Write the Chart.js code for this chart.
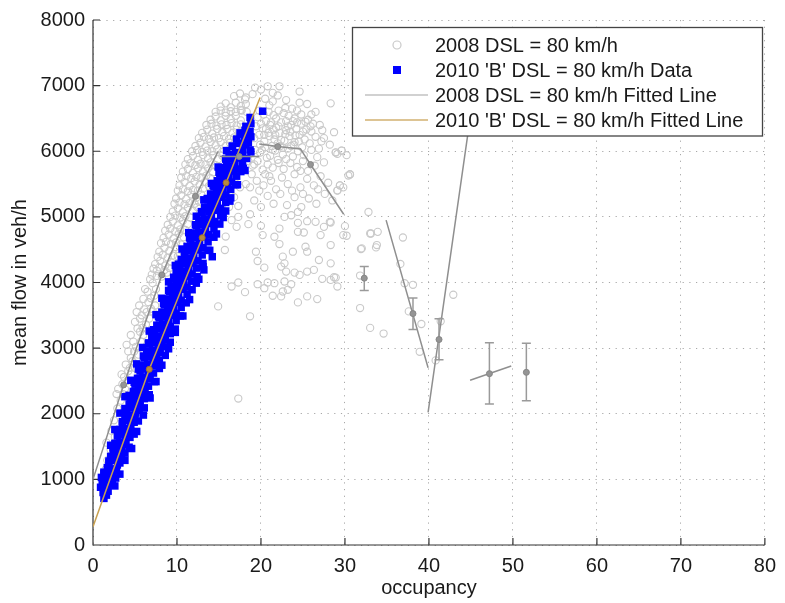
<!DOCTYPE html>
<html><head><meta charset="utf-8">
<script src="https://cdn.jsdelivr.net/npm/chart.js@4.4.0/dist/chart.umd.min.js"></script>
<style>html,body{margin:0;padding:0;background:#fff}#wrap{width:785px;height:603px}</style>
</head><body><div id="wrap"><canvas id="c" width="785" height="603"></canvas></div>
<script>
// ---------- data ----------
const xTickValues = [0,10,20,30,40,50,60,70,80];
const yTickValues = [0,1000,2000,3000,4000,5000,6000,7000,8000];
const legendLabels = ["2008 DSL = 80 km/h","2010 'B' DSL = 80 km/h Data","2008 DSL = 80 km/h Fitted Line","2010 'B' DSL = 80 km/h Fitted Line"];
const xTitle = "occupancy";
const yTitle = "mean flow in veh/h";

const gray2008 = [
[1.5,1150],[1.7,1290],[1.6,1560],[2.1,1450],[2.2,1740],[2.6,1650],[2.5,1900],[2.9,2080],[2.8,2300],[3.3,2200],[3.5,2450],[3.8,2380],[3.4,2600],[3.7,2560],[4.2,2650],[3.9,2750],[4.4,2700],[4.5,2850],[4.2,2950],[4.7,2800],[4.9,2950],[5.1,3020],[4.8,3100],[4.0,3050],[4.5,3200],[5.3,3300],[5.0,3400],[5.6,3250],[5.9,3310],[6.3,3360],[5.2,3550],[5.8,3500],[5.6,3450],[6.1,3590],[6.4,3550],[5.5,3650],[7.1,3560],[6.6,3700],[6.0,3750],[6.9,3760],[7.3,3800],[6.5,3860],[6.2,3900],[7.1,3990],[7.5,3900],[6.8,4050],[7.6,4100],
[3.0,2380],[3.6,2300],[4.1,2500],[4.6,2600],[5.0,2700],[5.4,2900],[5.7,3100],[6.0,3200],[6.7,3450],[6.9,3600],[7.4,3650],
[7.0,4120],[7.6,4180],[8.2,4090],[8.8,4150],
[7.2,4210],[7.9,4230],[8.5,4190],[9.1,4220],
[7.4,4280],[8.0,4330],[8.6,4260],[9.3,4310],[9.9,4250],
[7.7,4390],[8.3,4420],[8.9,4380],[9.5,4410],[10.1,4400],
[7.9,4470],[8.5,4530],[9.1,4480],[9.8,4540],[10.3,4460],
[8.1,4600],[8.7,4620],[9.3,4590],[9.9,4610],[10.5,4580],
[8.4,4680],[9.0,4730],[9.6,4670],[10.2,4740],[10.8,4690],
[8.6,4790],[9.2,4820],[9.8,4780],[10.4,4810],[11.0,4800],
[8.9,4880],[9.5,4930],[10.1,4870],[10.7,4940],[11.3,4890],
[9.2,5000],[9.8,5020],[10.4,4990],[11.0,5010],[11.6,4990],
[9.5,5080],[10.1,5130],[10.7,5070],[11.3,5140],[11.9,5090],[12.4,5150],
[9.7,5200],[10.3,5220],[10.9,5190],[11.5,5210],[12.1,5200],[12.6,5230],
[9.9,5280],[10.5,5330],[11.1,5270],[11.7,5340],[12.3,5290],[12.9,5340],
[10.1,5400],[10.7,5420],[11.3,5390],[11.9,5410],[12.5,5400],[13.1,5430],
[10.3,5480],[10.9,5530],[11.5,5470],[12.1,5540],[12.7,5490],[13.3,5530],[13.8,5470],
[10.5,5600],[11.1,5620],[11.7,5590],[12.3,5610],[12.9,5600],[13.5,5630],[14.0,5590],
[10.7,5690],[11.3,5730],[11.9,5670],[12.5,5740],[13.1,5690],[13.7,5740],[14.3,5680],
[11.0,5800],[11.6,5820],[12.2,5790],[12.8,5810],[13.4,5800],[14.0,5830],[14.6,5790],
[11.3,5880],[11.9,5930],[12.5,5870],[13.1,5940],[13.7,5890],[14.3,5940],[14.9,5880],[15.4,5930],
[11.8,6000],[12.4,6020],[13.0,5990],[13.6,6010],[14.2,6000],[14.8,6030],[15.4,5990],[16.0,6010],
[12.2,6080],[12.8,6130],[13.4,6070],[14.0,6140],[14.6,6090],[15.2,6140],[15.8,6080],[16.3,6130],
[12.6,6200],[13.2,6220],[13.8,6190],[14.4,6210],[15.0,6200],[15.6,6230],[16.2,6190],[16.8,6210],
[13.0,6280],[13.6,6330],[14.2,6270],[14.8,6340],[15.4,6290],[16.0,6340],[16.6,6280],[17.1,6330],
[13.5,6400],[14.1,6420],[14.7,6390],[15.3,6410],[15.9,6400],[16.5,6430],[17.1,6390],[17.6,6410],
[14.0,6480],[14.6,6530],[15.2,6470],[15.8,6540],[16.4,6490],[17.0,6540],[17.6,6470],
[14.6,6600],[15.2,6620],[15.8,6590],[16.4,6610],[17.0,6600],[17.6,6630],[18.3,6600],
[15.2,6680],[15.8,6730],[16.4,6670],[17.0,6740],[17.6,6690],[18.2,6720],
[16.8,6840],[17.5,6880],[18.2,6820],[19.0,6870],[19.3,6970],
[20.0,6940],[20.8,6990],[21.4,6890],[22.2,6990],[24.6,6910],[24.6,6740],[28.3,6730],[18.1,6790],[17.7,6620],
[14.8,4900],[15.5,5100],[16.2,5150],[16.8,5300],[17.5,5450],[17.0,5600],[18.2,5500],[18.9,5650],[18.5,5850],[19.2,5800],[15.8,4700],[16.5,4950],[17.3,5000],[16.0,5400],
[20.5,6800],[21.0,6700],[22.0,6850],[23.0,6780],[23.7,6650],[25.5,6720],[26.5,6600],[19.8,6620],
[19.6,6520],[20.3,6560],[20.9,6600],[21.5,6550],[22.1,6620],[22.7,6580],[23.3,6540],[24.0,6500],[24.8,6560],[25.6,6480],[26.2,6420],[27.0,6400],
[19.4,6380],[20.0,6420],[20.6,6340],[21.2,6440],[21.8,6360],[22.4,6440],[23.0,6320],[23.6,6400],[24.2,6340],[24.8,6420],[25.4,6330],[26.0,6300],[27.3,6320],[28.7,6290],
[19.2,6200],[19.8,6250],[20.4,6150],[21.0,6230],[21.6,6180],[22.2,6280],[22.8,6160],[23.4,6230],[24.0,6140],[24.6,6250],[25.2,6180],[25.8,6120],[26.5,6220],[27.2,6150],
[18.6,5950],[19.3,6020],[19.9,5980],[20.5,6060],[21.1,5930],[21.7,6010],[22.6,5950],[23.2,6040],[23.8,5920],[24.4,6000],[25.1,5940],[26.0,6020],[26.7,5910],[27.5,5830],[29.1,5960],[28.9,5980],[30.2,5940],[29.6,6010],
[19.0,5780],[19.6,5850],[20.2,5720],[20.8,5800],[21.4,5750],[22.0,5870],[22.7,5730],[23.5,5820],[24.3,5760],[25.0,5850],[25.6,5700],[26.4,5780],
[18.7,5450],[19.5,5550],[20.3,5480],[21.0,5620],[21.8,5420],[22.5,5600],[23.2,5500],[24.0,5650],[24.7,5450],[25.5,5580],[26.3,5480],[27.1,5620],[28.0,5520],[29.4,5480],[29.1,5400],[30.6,5650],[30.4,5630],[29.8,5450],
[19.2,5250],[20.0,5150],[20.8,5320],[21.5,5200],[22.3,5350],[23.1,5180],[24.0,5300],[24.8,5150],[25.7,5280],[26.6,5200],[27.6,5350],[28.5,5250],
[20.2,6350],[20.9,6280],[21.5,6330],[22.1,6380],[22.9,6260],[23.5,6300],[24.1,6240],[21.3,6080],[22.0,6120],[22.6,6050],[23.0,6460],[21.8,6500],[20.6,6460],[24.3,6440],[25.0,6300],[19.9,6100],[20.7,5900],[23.9,6100],
[20.4,6250],[21.1,6400],[21.7,6250],[22.4,6170],[23.2,6380],[23.8,6460],[24.5,6150],[25.3,6450],[25.9,6380],[20.1,6020],[21.4,6020],[22.3,6080],[23.6,6080],[24.9,6060],[22.1,5820],[23.0,5880],[24.7,5700],[21.2,5550],[20.5,5650],[19.8,5400],[23.7,5400],[26.8,5420],[25.0,5350],[22.9,6660],[21.4,6760],[24.3,6620],[26.0,6560],[27.5,6200],[26.9,6040],[28.2,6100],
[17.3,5166],[18.7,5040],[17.1,4848],[18.5,4889],[20.0,4863],[20.2,4722],[22.2,4822],[21.6,4697],[22.2,4586],[22.8,5000],[23.6,5025],[24.4,5075],[24.4,4909],[25.5,4934],[26.5,4924],[27.5,4848],[28.3,4914],[27.1,4722],[24.4,4772],[25.1,4762],[25.3,4545],[28.3,4571],[29.8,4722],
[19.4,4469],[19.6,4328],[22.6,4394],[23.8,4469],[25.5,4469],[22.8,4292],[22.4,4242],[20.4,4227],[26.9,4343],[28.3,4292],[26.3,4192],[24.0,4151],[23.0,4166],[24.6,4116],[25.5,4166],
[22.8,4015],[23.6,3974],[21.6,3989],[20.8,4000],[19.6,3974],[17.3,4000],[16.5,3939],[20.4,3913],[23.2,3889],[22.6,3863],[22.4,3788],[21.4,3798],[24.4,3697],[25.5,3788],[26.7,3747],[27.3,4056],[28.3,4040],[28.9,4075],[29.1,3939],
[18.1,3853],[14.9,3636],[18.7,3485],[15.7,4495],[31.8,3611],[33.0,3308],[32.0,4520],[33.0,4747],[33.8,4571],[31.8,4106],[17.3,2232],
[32.8,5075],[33.1,4747],[33.9,4772],[33.7,4535],[31.9,4510],[36.9,4686],[36.6,4283],[37.1,3989],[38.1,3965],[37.6,3560],[39.1,3368],[38.9,2944],[40.8,2813],[41.4,3409],[42.9,3813],[34.6,3222],[28.7,4080],[30.2,4712],[30.0,4859],[28.2,4924],[30.6,5646],[29.4,5480],[29.1,5404],[29.6,6010],[28.9,5984]
];

const blue2010 = [
[1.3,710],[1.6,760],[1.2,800],[1.8,820],[1.5,880],
[0.9,880],[1.3,910],[1.7,890],[2.2,930],[2.6,900],
[1.1,920],[1.9,940],[1.4,960],[2.3,990],
[1.0,1030],[1.6,1050],[2.1,1080],[2.7,1020],[1.3,1110],
[1.3,1090],[1.8,1120],[2.3,1100],[2.8,1130],[3.2,1080],
[1.7,1180],[2.3,1160],[2.9,1220],[1.9,1260],[2.6,1290],[3.2,1250],
[1.9,1280],[2.4,1320],[2.9,1300],[3.4,1330],[3.8,1290],
[2.1,1350],[2.8,1380],[3.4,1420],[2.4,1450],[3.0,1480],[3.8,1400],
[2.4,1480],[2.9,1520],[3.4,1500],[3.9,1530],[4.3,1490],
[2.6,1550],[3.2,1570],[3.9,1600],[4.4,1640],[2.9,1660],[3.6,1690],
[3.0,1680],[3.5,1720],[4.0,1700],[4.5,1730],[4.9,1690],
[3.2,1760],[3.9,1780],[4.5,1820],[3.5,1850],[4.9,1870],[4.2,1900],
[3.5,1880],[4.0,1920],[4.5,1900],[5.0,1930],[5.4,1890],
[3.8,1960],[4.4,1980],[5.1,2010],[4.0,2060],[5.5,2050],[4.7,2090],
[3.8,2080],[4.4,2120],[5.0,2100],[5.6,2130],[6.1,2090],
[4.3,2150],[4.9,2170],[5.6,2200],[4.5,2250],[6.1,2230],[5.2,2280],
[4.3,2280],[4.9,2320],[5.6,2300],[6.2,2330],[6.7,2290],
[4.8,2340],[5.4,2370],[6.1,2390],[6.6,2420],[5.0,2450],[5.8,2470],
[4.9,2480],[5.5,2520],[6.1,2500],[6.8,2530],[7.3,2490],
[5.3,2540],[5.9,2560],[6.6,2590],[7.2,2620],[5.6,2650],[6.3,2680],
[5.4,2680],[6.0,2720],[6.7,2700],[7.4,2730],[7.9,2690],
[5.8,2740],[6.5,2760],[7.2,2790],[7.9,2810],[6.1,2850],[6.9,2870],[7.6,2890],
[6.0,2880],[6.6,2920],[7.3,2900],[8.0,2930],[8.6,2890],
[6.4,2950],[7.1,2970],[7.8,3000],[8.5,3020],[6.7,3060],[7.4,3080],[8.2,3100],
[6.6,3080],[7.2,3120],[7.9,3100],[8.6,3130],[9.2,3090],
[7.0,3160],[7.7,3180],[8.4,3200],[9.2,3220],[7.3,3270],[8.0,3290],[8.8,3300],
[7.2,3280],[7.8,3320],[8.5,3300],[9.2,3330],[9.8,3290],
[7.6,3350],[8.3,3370],[9.0,3400],[9.9,3420],[7.9,3460],[8.7,3480],[9.5,3500],
[7.8,3480],[8.4,3520],[9.1,3500],[9.9,3530],[10.4,3490],
[8.2,3550],[8.9,3570],[9.6,3600],[10.5,3620],[8.5,3660],[9.3,3680],[10.1,3700],
[8.4,3680],[9.0,3720],[9.8,3700],[10.5,3730],[11.1,3690],
[8.8,3750],[9.5,3770],[10.2,3800],[11.2,3820],[9.1,3860],[9.9,3880],[10.7,3900],
[9.0,3880],[9.6,3920],[10.4,3900],[11.2,3930],[11.8,3890],
[9.3,3950],[10.0,3970],[10.8,4000],[11.7,4020],[9.7,4060],[10.5,4080],[11.3,4100],
[9.6,4080],[10.2,4120],[11.0,4100],[11.8,4130],[12.4,4090],
[9.9,4150],[10.6,4170],[11.4,4200],[12.3,4220],[10.3,4260],[11.1,4280],[11.9,4300],
[10.2,4280],[10.9,4320],[11.7,4300],[12.5,4330],[13.1,4290],
[10.5,4350],[11.2,4370],[12.0,4400],[13.0,4420],[10.9,4460],[11.7,4480],[12.5,4500],
[10.9,4480],[11.6,4520],[12.3,4500],[13.1,4530],[13.7,4490],
[11.2,4550],[11.9,4570],[12.7,4600],[13.7,4620],[11.6,4660],[12.4,4680],[13.2,4700],
[11.5,4680],[12.2,4720],[13.0,4700],[13.8,4730],[14.4,4690],
[11.9,4750],[12.6,4770],[13.4,4800],[14.4,4820],[12.3,4860],[13.1,4880],[13.9,4900],
[12.2,4880],[12.9,4920],[13.7,4900],[14.5,4930],[15.1,4890],
[12.6,4950],[13.3,4970],[14.1,5000],[15.2,5020],[13.0,5060],[13.8,5080],[14.6,5100],
[12.9,5080],[13.6,5120],[14.4,5100],[15.2,5130],[15.8,5090],
[13.3,5150],[14.0,5170],[14.8,5200],[15.8,5220],[13.7,5260],[14.5,5280],[15.3,5300],
[13.6,5280],[14.3,5320],[15.0,5300],[15.8,5330],[16.4,5290],
[14.0,5350],[14.7,5370],[15.5,5400],[16.4,5420],[14.4,5460],[15.2,5480],[16.0,5500],
[14.3,5480],[15.0,5520],[15.7,5500],[16.5,5530],[17.0,5490],
[14.8,5550],[15.5,5570],[16.2,5600],[17.1,5620],[15.1,5660],[15.9,5680],[16.7,5700],
[15.0,5680],[15.7,5720],[16.4,5700],[17.1,5730],[17.6,5690],
[15.5,5750],[16.2,5770],[16.9,5800],[17.8,5820],[15.9,5860],[16.6,5880],[17.4,5900],
[15.8,5880],[16.5,5920],[17.1,5900],[17.8,5930],[18.3,5890],
[16.2,5950],[17.0,5980],[17.8,6000],[18.7,6020],[16.6,6070],[18.2,6100],
[16.6,6080],[17.3,6120],[17.9,6100],[18.5,6130],
[17.1,6186],[18.0,6170],[18.8,6220],[17.6,6260],[18.3,6262],
[17.5,6280],[18.1,6320],[18.7,6300],
[18.2,6380],[18.8,6420],[18.7,6515],[20.2,6610],
[13.2,4192],[14.2,4393],[18.1,5707],[12.6,4050],
[2.1,1520],[4.6,1470],[2.6,1760],[5.2,1730],[3.2,2010],[6.0,1980],[3.8,2260],[6.8,2240],[4.5,2510],[7.5,2490],[5.2,2760],[8.2,2740],[5.9,3010],[9.0,2990],[6.7,3260],[9.8,3240],[7.5,3510],[10.7,3490],[8.2,3760],[11.5,3740],[9.0,4010],[12.3,3990],[9.8,4260],[13.1,4240],[10.6,4510],[13.9,4490],[11.4,4760],[14.7,4740],[12.3,5010],[15.5,4990],[13.2,5260],[16.3,5240],[14.1,5510],[17.2,5490],[14.9,5760],[17.9,5740],[15.9,6010],[18.8,5990]
];

// fitted lines (null = break between segments)
const fit2008 = [[0,1000],[3.65,2440],[8.2,4116],[12.2,5313],[14.9,6000],null,
  [15.1,5920],[19.8,5920],null,
  [19.8,6110],[22.0,6071],[24.7,6035],[25.9,5798],[29.85,5040],null,
  [34.9,4950],[39.9,2700],null,
  [39.9,2020],[44.9,6500],null,
  [44.9,2510],[49.8,2727]];
const fit2008Markers = [[3.65,2440],[8.2,4116],[12.2,5313],[17.4,5920],[22.0,6071],[25.9,5798],[32.3,4066],[38.1,3526],[41.2,3131],[47.2,2611],[51.6,2631]];
const fit2010 = [[0,277],[6.7,2677],[13.0,4682],[15.85,5520],[19.9,6818]];
const fit2010Markers = [[6.7,2677],[13.0,4682],[15.85,5520]];

// error bars
const errX  = [32.3, 38.1, 41.2, 47.2, 51.6];
const errLo = [3879, 3283, 2823, 2147, 2197];
const errHi = [4242, 3763, 3449, 3081, 3076];

// ---------- helpers ----------
const toXY = arr => arr.map((p,i) => p ? {x:p[0], y:p[1]} : {x:arr[i-1][0], y:null});

const FONT = "'Liberation Sans', Arial, Helvetica, sans-serif";
const C_GRAY_PT = '#c9c9c9', C_BLUE = '#0000ff', C_FIT08 = '#8f8f8f', C_FIT10 = '#c8a050';

const axesPlugin = {
  id:'axesLines',
  beforeDatasetsDraw(chart){
    const {ctx, chartArea:{left,right,top,bottom}, scales:{x,y}} = chart;
    ctx.save();
    ctx.strokeStyle = '#333'; ctx.lineWidth = 1.2;
    ctx.beginPath();
    ctx.moveTo(left, top); ctx.lineTo(left, bottom); ctx.lineTo(right, bottom);
    xTickValues.forEach(v => { const px = x.getPixelForValue(v); ctx.moveTo(px, bottom); ctx.lineTo(px, bottom-7); });
    yTickValues.forEach(v => { const py = y.getPixelForValue(v); ctx.moveTo(left, py); ctx.lineTo(left+7, py); });
    ctx.stroke();
    ctx.restore();
  }
};

const errPlugin = {
  id:'errBars',
  afterDatasetsDraw(chart){
    const {ctx, scales:{x,y}} = chart;
    ctx.save();
    ctx.strokeStyle = '#9a9a9a'; ctx.lineWidth = 1.5;
    errX.forEach((xv,i) => {
      const px = x.getPixelForValue(xv), lo = y.getPixelForValue(errLo[i]), hi = y.getPixelForValue(errHi[i]);
      ctx.beginPath();
      ctx.moveTo(px, lo); ctx.lineTo(px, hi);
      ctx.moveTo(px-4.5, lo); ctx.lineTo(px+4.5, lo);
      ctx.moveTo(px-4.5, hi); ctx.lineTo(px+4.5, hi);
      ctx.stroke();
    });
    ctx.fillStyle = '#959595'; ctx.strokeStyle = '#858585'; ctx.lineWidth = 1;
    errX.forEach((xv,i) => {
      const m = fit2008Markers.find(p => p[0] === xv);
      if (!m) return;
      ctx.beginPath(); ctx.arc(x.getPixelForValue(m[0]), y.getPixelForValue(m[1]), 3, 0, Math.PI*2); ctx.fill(); ctx.stroke();
    });
    ctx.restore();
  }
};

const legendPlugin = {
  id:'customLegend',
  afterDraw(chart){
    const {ctx} = chart;
    const bx = 352.5, by = 27.5, bw = 410, bh = 108.5;
    ctx.save();
    ctx.fillStyle = '#fff'; ctx.fillRect(bx, by, bw, bh);
    ctx.strokeStyle = '#444'; ctx.lineWidth = 1.3; ctx.strokeRect(bx, by, bw, bh);
    const rows = [45, 70, 95, 120];
    const sx = 397;
    ctx.strokeStyle = C_GRAY_PT; ctx.lineWidth = 1.2;
    ctx.beginPath(); ctx.arc(sx, rows[0], 4, 0, Math.PI*2); ctx.stroke();
    ctx.fillStyle = C_BLUE; ctx.fillRect(sx-4, rows[1]-4, 8, 8);
    ctx.strokeStyle = '#c2c2c2'; ctx.lineWidth = 1.5;
    ctx.beginPath(); ctx.moveTo(365, rows[2]); ctx.lineTo(428, rows[2]); ctx.stroke();
    ctx.strokeStyle = '#d2b070';
    ctx.beginPath(); ctx.moveTo(365, rows[3]); ctx.lineTo(428, rows[3]); ctx.stroke();
    ctx.fillStyle = '#1a1a1a'; ctx.font = '20px ' + FONT; ctx.textBaseline = 'middle'; ctx.textAlign = 'left';
    legendLabels.forEach((t,i) => ctx.fillText(t, 435, rows[i]+1));
    ctx.restore();
  }
};

new Chart(document.getElementById('c'), {
  type: 'scatter',
  data: {
    datasets: [
      { label: legendLabels[3]+' markers', data: toXY(fit2010Markers), pointRadius: 3, pointBackgroundColor: '#b88a40', pointBorderColor: '#a07030', pointBorderWidth: 1, showLine: false, order: 0 },
      { label: legendLabels[2]+' markers', data: toXY(fit2008Markers.filter(p => !errX.includes(p[0]))), pointRadius: 3, pointBackgroundColor: '#959595', pointBorderColor: '#858585', pointBorderWidth: 1, showLine: false, order: 1 },
      { label: legendLabels[3], data: toXY(fit2010), showLine: true, pointRadius: 0, borderColor: C_FIT10, borderWidth: 1.5, spanGaps: false, order: 2 },
      { label: legendLabels[2], data: toXY(fit2008), showLine: true, pointRadius: 0, borderColor: C_FIT08, borderWidth: 1.5, spanGaps: false, order: 3 },
      { label: legendLabels[1], data: toXY(blue2010), pointStyle: 'rect', pointRadius: 5.3, backgroundColor: C_BLUE, borderColor: C_BLUE, borderWidth: 0, order: 4 },
      { label: legendLabels[0], data: toXY(gray2008), pointStyle: 'circle', pointRadius: 3.6, backgroundColor: 'rgba(255,255,255,0)', borderColor: C_GRAY_PT, borderWidth: 1.1, order: 5 }
    ]
  },
  options: {
    responsive: false, animation: false, devicePixelRatio: 1,
    layout: { padding: { left: 0, right: 12, top: 17, bottom: 0 } },
    plugins: { legend: { display: false }, tooltip: { enabled: false } },
    scales: {
      x: {
        type: 'linear', min: 0, max: 80,
        afterBuildTicks: s => { s.ticks = xTickValues.map(v => ({value: v})); },
        afterFit: s => { s.height = 58; },
        grid: { color: '#a8a8a8', lineWidth: 1, drawTicks: false },
        border: { display: false, dash: [1.2, 5.5] },
        ticks: { padding: 9, color: '#1a1a1a', font: { size: 20, family: FONT }, maxRotation: 0, callback: v => String(v) },
        title: { display: true, text: xTitle, color: '#1a1a1a', font: { size: 20, family: FONT }, padding: { top: 0, bottom: 3 } }
      },
      y: {
        type: 'linear', min: 0, max: 8000,
        afterBuildTicks: s => { s.ticks = yTickValues.map(v => ({value: v})); },
        afterFit: s => { s.width = 93; },
        grid: { color: '#a8a8a8', lineWidth: 1, drawTicks: false },
        border: { display: false, dash: [1.2, 5.5] },
        ticks: { padding: 8, color: '#1a1a1a', font: { size: 20, family: FONT }, callback: v => String(v) },
        title: { display: true, text: yTitle, color: '#1a1a1a', font: { size: 20, family: FONT }, padding: { top: 8, bottom: 0 } }
      }
    }
  },
  plugins: [axesPlugin, errPlugin, legendPlugin]
});
</script>
</body></html>
